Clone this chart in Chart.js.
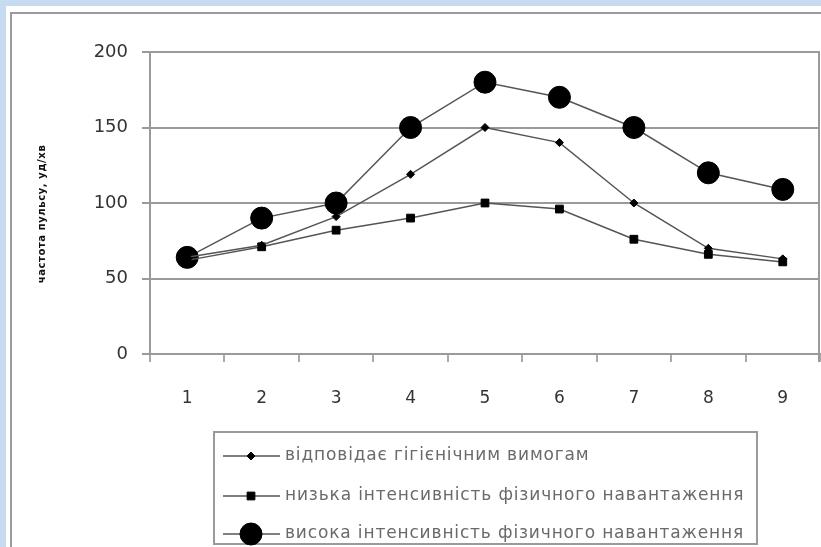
<!DOCTYPE html>
<html>
<head>
<meta charset="utf-8">
<script src="https://cdn.jsdelivr.net/npm/chart.js@4/dist/chart.umd.min.js"></script>
<style>
  html, body { margin: 0; padding: 0; background: #c6daf0; }
  #wrap { width: 821px; height: 547px; position: relative; }
  canvas { display: block; filter: blur(0.35px); }
</style>
</head>
<body>
<div id="wrap"><canvas id="c" width="821" height="547"></canvas></div>
<script>
// Measurement points (x axis) and heart-rate series
const categories = ['1', '2', '3', '4', '5', '6', '7', '8', '9'];
const hygienic      = [64, 72, 91, 119, 150, 140, 100, 70, 63];
const lowIntensity  = [62, 71, 82, 90, 100, 96, 76, 66, 61];
const highIntensity = [64, 90, 100, 150, 180, 170, 150, 120, 109];
const seriesNames = [
  'відповідає гігієнічним вимогам',
  'низька інтенсивність фізичного навантаження',
  'висока інтенсивність фізичного навантаження'
];
const yTicks = [0, 50, 100, 150, 200];
const yTitle = 'частота пульсу, уд/хв';

const FONT = "'DejaVu Sans', 'Liberation Sans', sans-serif";
const GRID = '#9a9a9a';

// Page frame: blue margin, white sheet, grey outline
const framePlugin = {
  id: 'frame',
  beforeDraw(chart) {
    const ctx = chart.ctx, w = chart.width, h = chart.height;
    ctx.save();
    ctx.fillStyle = '#c6daf0';
    ctx.fillRect(0, 0, w, h);
    ctx.fillStyle = '#ffffff';
    ctx.fillRect(6, 6, w - 6, h - 6);
    ctx.strokeStyle = GRID;
    ctx.lineWidth = 2;
    ctx.beginPath();
    ctx.moveTo(11, h);
    ctx.lineTo(11, 13);
    ctx.lineTo(w, 13);
    ctx.stroke();
    ctx.restore();
  },
  beforeDatasetsDraw(chart) {
    // right edge of the plot area
    const { ctx, chartArea } = chart;
    ctx.save();
    ctx.strokeStyle = GRID;
    ctx.lineWidth = 2;
    ctx.beginPath();
    ctx.moveTo(chartArea.right - 1, chartArea.top);
    ctx.lineTo(chartArea.right - 1, chartArea.bottom + 8);
    ctx.stroke();
    ctx.restore();
  }
};

// Rotated y-axis caption
const yTitlePlugin = {
  id: 'yTitle',
  afterDraw(chart) {
    const ctx = chart.ctx;
    ctx.save();
    ctx.translate(42, 214);
    ctx.rotate(-Math.PI / 2);
    ctx.font = 'bold 10px ' + FONT;
    ctx.letterSpacing = '0.6px';
    ctx.fillStyle = '#111';
    ctx.textAlign = 'center';
    ctx.textBaseline = 'middle';
    ctx.fillText(yTitle, 0, 0);
    ctx.restore();
  }
};

// Boxed legend below the plot, one series per row
const boxLegendPlugin = {
  id: 'boxLegend',
  afterDraw(chart) {
    const ctx = chart.ctx;
    const box = { x: 214, y: 432, w: 543, h: 112 };
    const rows = [456, 496, 534];
    ctx.save();
    ctx.strokeStyle = GRID;
    ctx.lineWidth = 2;
    ctx.strokeRect(box.x, box.y, box.w, box.h);
    chart.data.datasets.forEach((ds, i) => {
      const y = rows[i];
      ctx.strokeStyle = ds.borderColor;
      ctx.lineWidth = ds.borderWidth;
      ctx.beginPath();
      ctx.moveTo(223, y);
      ctx.lineTo(280, y);
      ctx.stroke();
      ctx.fillStyle = '#000';
      ctx.strokeStyle = '#000';
      ctx.lineWidth = 1;
      Chart.helpers.drawPoint(ctx, {
        pointStyle: ds.pointStyle, radius: ds.pointRadius, rotation: 0, borderWidth: 1
      }, 251, y);
      ctx.font = '17px ' + FONT;
      ctx.letterSpacing = '0.85px';
      ctx.fillStyle = '#6a6a6a';
      ctx.textAlign = 'left';
      ctx.textBaseline = 'middle';
      ctx.fillText(ds.label, 285, y);
      ctx.letterSpacing = '0px';
    });
    ctx.restore();
  }
};

const mk = (label, data, style, radius) => ({
  label, data,
  borderColor: '#555',
  borderWidth: 1.5,
  pointStyle: style,
  pointRadius: radius,
  pointBackgroundColor: '#000',
  pointBorderColor: '#000',
  pointBorderWidth: 1,
  tension: 0,
  fill: false
});

new Chart(document.getElementById('c'), {
  type: 'line',
  data: {
    labels: categories,
    datasets: [
      mk(seriesNames[0], hygienic, 'rectRot', 4),
      mk(seriesNames[1], lowIntensity, 'rect', 5.5),
      mk(seriesNames[2], highIntensity, 'circle', 11)
    ]
  },
  options: {
    responsive: false,
    devicePixelRatio: 1,
    animation: false,
    layout: { autoPadding: false, padding: { left: 0, top: 52, right: 1, bottom: 133 } },
    plugins: { legend: { display: false }, tooltip: { enabled: false } },
    scales: {
      x: {
        type: 'category',
        offset: true,
        afterFit(scale) {
          scale.height = 60;
          scale.paddingLeft = 0;
          scale.paddingRight = 0;
        },
        grid: {
          offset: true, drawOnChartArea: false, drawTicks: true,
          tickLength: 8, color: '#aaa', lineWidth: 2
        },
        border: { display: true, color: GRID, width: 2 },
        ticks: { font: { family: FONT, size: 17 }, color: '#333', padding: 26 }
      },
      y: {
        min: 0, max: 200,
        afterFit(scale) {
          scale.width = 150;
          scale.paddingTop = 0;
          scale.paddingBottom = 0;
        },
        afterBuildTicks(scale) { scale.ticks = yTicks.map(v => ({ value: v })); },
        grid: { color: GRID, lineWidth: 2, tickLength: 8, drawTicks: true },
        border: { display: true, color: GRID, width: 2 },
        ticks: { font: { family: FONT, size: 18 }, color: '#333', padding: 14 }
      }
    }
  },
  plugins: [framePlugin, yTitlePlugin, boxLegendPlugin]
});
</script>
</body>
</html>
